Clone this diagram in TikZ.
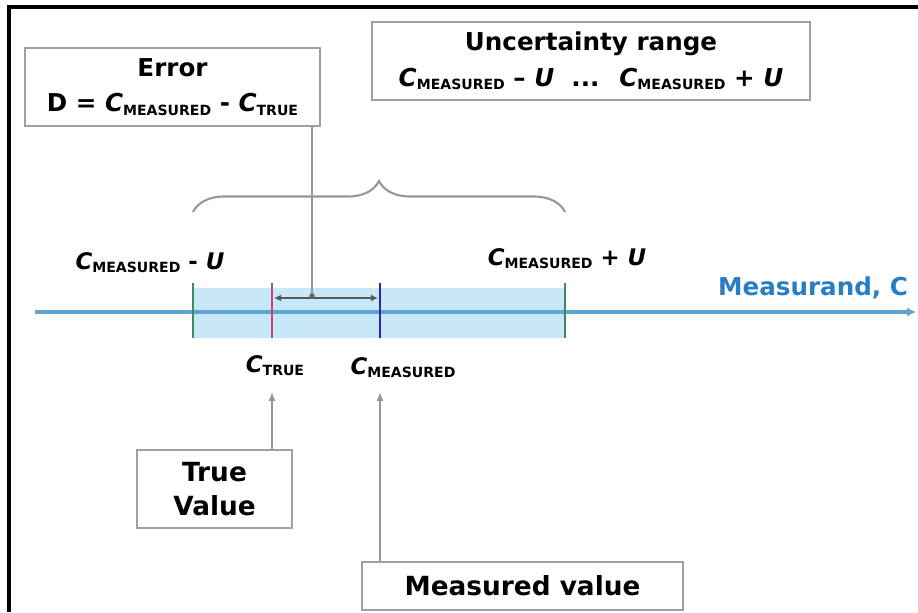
\documentclass[tikz,border=0pt]{standalone}
\usepackage{fontspec}
\setmainfont{DejaVu Sans}
\usetikzlibrary{decorations.pathreplacing,arrows.meta}
\definecolor{axisblue}{RGB}{95,165,210}
\definecolor{bandblue}{RGB}{200,232,250}
\definecolor{mblue}{RGB}{40,125,195}
\definecolor{boxgray}{RGB}{160,160,160}
\definecolor{tgreen}{RGB}{60,140,90}
\definecolor{tred}{RGB}{205,70,100}
\definecolor{tblue}{RGB}{40,40,170}
\definecolor{arrgray}{RGB}{150,150,150}
\newcommand\Cmsub[2]{\textbf{\textit{C}}\raisebox{-0.25ex}{\fontsize{#2}{#2}\selectfont\bfseries #1}}
\tikzset{
  boxnode/.style={draw=boxgray, line width=1.1pt, fill=white, align=center, inner sep=2pt},
  lab/.style={inner sep=1pt, font=\fontsize{13}{15}\selectfont\bfseries},
  tick/.style={line width=1.3pt},
  uparrow/.style={draw=arrgray, line width=1pt, -{Latex[length=5pt,width=4pt]}},
}
\begin{document}
\begin{tikzpicture}[x=0.02cm, y=-0.02cm]
\useasboundingbox (0,0) rectangle (918,612);
% frame
\coordinate (fb) at (9,612);
\coordinate (fc) at (9,7);
\coordinate (fr) at (918,7);
\draw[line width=2.2pt] (fb) -- (fc) -- (fr);

% band
\fill[bandblue] (193,288) rectangle (565,338);
% axis
\coordinate (ax0) at (35,312);
\coordinate (ax1) at (916,312);
\draw[axisblue, line width=2pt, -{Latex[length=5pt,width=5pt]}] (ax0) -- (ax1);

% ticks
\coordinate (g1t) at (193,283); \coordinate (g1b) at (193,338);
\coordinate (g2t) at (565,283); \coordinate (g2b) at (565,338);
\coordinate (rt) at (272,283);  \coordinate (rb) at (272,338);
\coordinate (bt) at (380,283);  \coordinate (bb) at (380,338);
\draw[tick, tgreen] (g1t) -- (g1b);
\draw[tick, tgreen] (g2t) -- (g2b);
\draw[tick, tred] (rt) -- (rb);
\draw[tick, tblue] (bt) -- (bb);

% double arrow
\coordinate (da0) at (274,298);
\coordinate (da1) at (378,298);
\draw[black!65, line width=1pt, {Latex[length=4pt,width=4pt]}-{Latex[length=4pt,width=4pt]}] (da0) -- (da1);

% boxes
\node[boxnode, minimum width=5.9cm, minimum height=1.56cm,
      font=\fontsize{14}{20}\selectfont\bfseries] (err) at (172.5,87)
  {Error\\D = \Cmsub{MEASURED}{8} - \Cmsub{TRUE}{8}};
\node[boxnode, minimum width=8.76cm, minimum height=1.56cm,
      font=\fontsize{14}{20}\selectfont\bfseries] (unc) at (591,61)
  {Uncertainty range\\\Cmsub{MEASURED}{8} -- \textit{U} \ ... \ \Cmsub{MEASURED}{8} + \textit{U}};
\node[boxnode, minimum width=3.1cm, minimum height=1.56cm,
      font=\fontsize{15}{19}\selectfont\bfseries] (tv) at (214.5,489) {True\\Value};
\node[boxnode, minimum width=6.42cm, minimum height=0.96cm,
      font=\fontsize{15}{18}\selectfont\bfseries] (mv) at (522.5,586) {Measured value};

% error connector
\coordinate (ev) at (312,296);
\draw[arrgray, line width=1pt] (err.south -| ev) -- (ev);
\fill[black!60] (ev) circle (1.6pt);

% brace
\coordinate (bl) at (193,212);
\coordinate (br) at (565,212);
\draw[arrgray, line width=1.2pt, decorate, decoration={brace, amplitude=0.62cm}] (bl) -- (br);

% labels
\node[lab] (lminus) at (150,263) {\Cmsub{MEASURED}{8} - \textit{U}};
\node[lab] (lplus) at (567,259) {\Cmsub{MEASURED}{8} + \textit{U}};
\node[lab] (ltrue) at (275,366) {\Cmsub{TRUE}{8}};
\node[lab] (lmeas) at (403,368) {\Cmsub{MEASURED}{8}};
\node[text=mblue, font=\fontsize{14}{16}\selectfont\bfseries, inner sep=1pt, anchor=east] (mlab) at (910,288) {Measurand, C};

% up arrows
\coordinate (ta) at (272,392);
\coordinate (ma) at (380,392);
\draw[uparrow] (tv.north -| ta) -- (ta);
\draw[uparrow] (mv.north -| ma) -- (ma);
\end{tikzpicture}
\end{document}
